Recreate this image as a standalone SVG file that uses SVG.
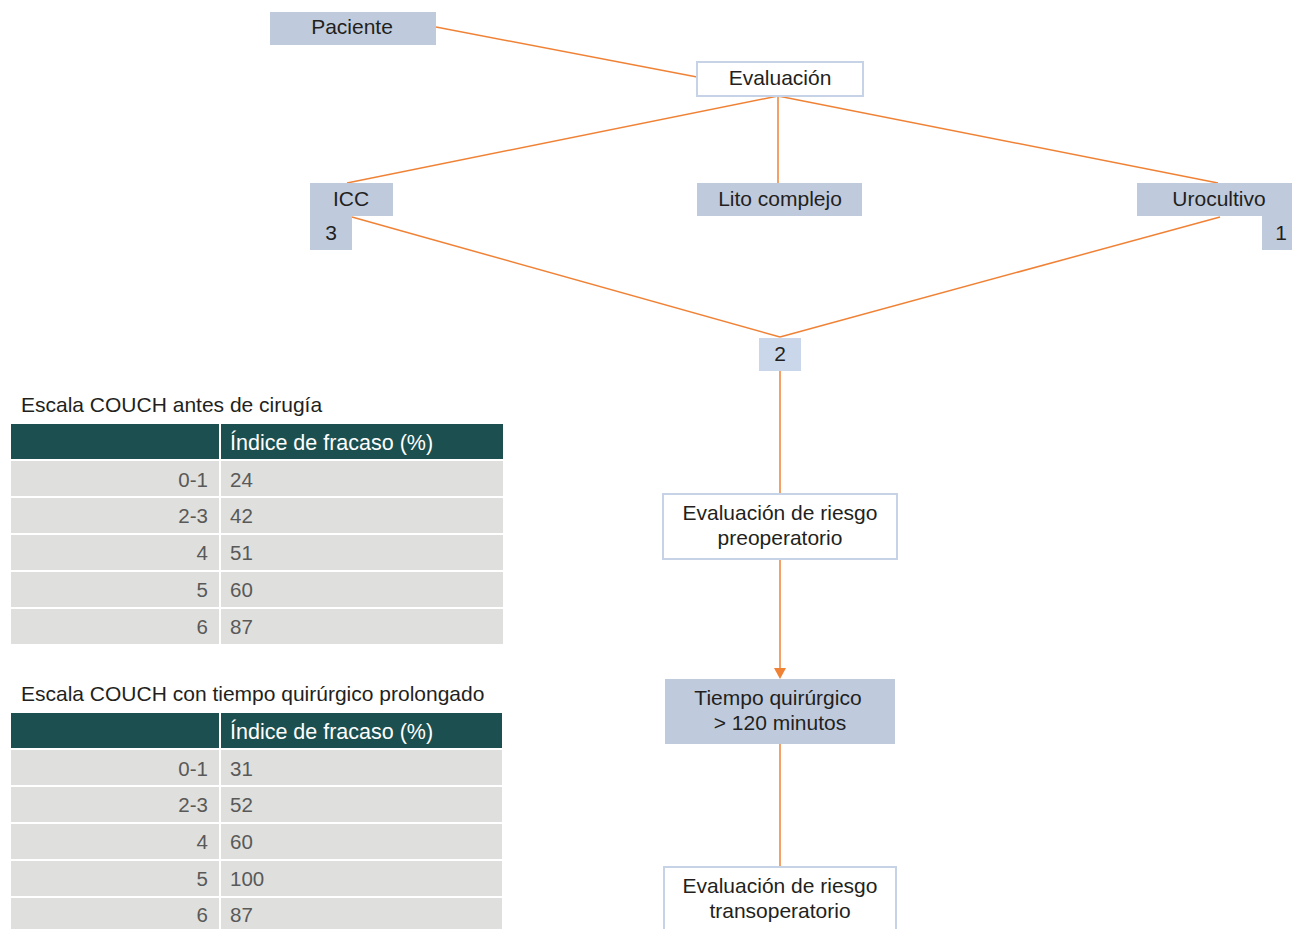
<svg xmlns="http://www.w3.org/2000/svg" width="1292" height="929" viewBox="0 0 1292 929">
<defs>
<style>
.t{font-family:"Liberation Sans",Arial,sans-serif;font-size:21px;fill:#231f20}
.c{text-anchor:middle}
.blue{fill:#bfcbdd}
.wbox{fill:#fff;stroke:#c6d3e6;stroke-width:2}
.ln{stroke:#f08236;stroke-width:1.5;fill:none}
.hd{fill:#1c4f50}
.row{fill:#dfe0dd}
.ht{font-family:"Liberation Sans",Arial,sans-serif;font-size:21.5px;fill:#fff}
.tt{font-family:"Liberation Sans",Arial,sans-serif;font-size:20.5px;fill:#595959}
.r{text-anchor:end}
</style>
</defs>
<rect width="1292" height="929" fill="#fff"/>
<g id="connectors">
<line class="ln" x1="436" y1="27" x2="697" y2="77"/>
<line class="ln" x1="778" y1="96" x2="347" y2="183"/>
<line class="ln" x1="778" y1="96" x2="778" y2="183"/>
<line class="ln" x1="778" y1="96" x2="1218" y2="183"/>
<line class="ln" x1="352" y1="217" x2="780" y2="337"/>
<line class="ln" x1="1220" y1="217" x2="780" y2="337"/>
<line class="ln" x1="780" y1="371" x2="780" y2="494"/>
<line class="ln" x1="780" y1="559" x2="780" y2="668"/>
<path d="M774,668 L786,668 L780,679 Z" fill="#f08236"/>
<line class="ln" x1="780" y1="744" x2="780" y2="866"/>
</g>
<g id="paciente">
<rect class="blue" x="270" y="12" width="166" height="33"/>
<text class="t c" x="352" y="34">Paciente</text>
</g>
<g id="evaluacion">
<rect class="wbox" x="697" y="62" width="166" height="34"/>
<text class="t c" x="780" y="85">Evaluación</text>
</g>
<g id="icc">
<rect class="blue" x="310" y="183" width="83" height="33"/>
<rect class="blue" x="310" y="216" width="42" height="34"/>
<text class="t c" x="351" y="206">ICC</text>
<text class="t c" x="331" y="240">3</text>
</g>
<g id="lito">
<rect class="blue" x="697" y="183" width="165" height="33"/>
<text class="t c" x="780" y="206">Lito complejo</text>
</g>
<g id="urocultivo">
<rect class="blue" x="1137" y="183" width="155" height="33"/>
<rect class="blue" x="1262" y="216" width="30" height="34"/>
<text class="t c" x="1219" y="206">Urocultivo</text>
<text class="t c" x="1281" y="240">1</text>
</g>
<g id="dos">
<rect fill="#cad7ea" x="759" y="338" width="42" height="33"/>
<text class="t c" x="780" y="361">2</text>
</g>
<g id="preop">
<rect class="wbox" x="663" y="494" width="234" height="65"/>
<text class="t c" x="780" y="520">Evaluación de riesgo</text>
<text class="t c" x="780" y="545">preoperatorio</text>
</g>
<g id="tiempo">
<rect class="blue" x="665" y="679" width="230" height="65"/>
<text class="t c" x="778" y="705">Tiempo quirúrgico</text>
<text class="t c" x="780" y="730">&gt; 120 minutos</text>
</g>
<g id="transop">
<rect class="wbox" x="664" y="867" width="232" height="70"/>
<text class="t c" x="780" y="893">Evaluación de riesgo</text>
<text class="t c" x="780" y="918">transoperatorio</text>
</g>
<g id="tabla1">
<text class="t" x="21" y="412">Escala COUCH antes de cirugía</text>
<rect class="hd" x="11" y="424" width="492" height="35"/>
<rect fill="#fff" x="219" y="424" width="2" height="220"/>
<text class="ht" x="230" y="450">Índice de fracaso (%)</text>
<rect class="row" x="11" y="461" width="208" height="35"/><rect class="row" x="221" y="461" width="282" height="35"/>
<rect class="row" x="11" y="498" width="208" height="35"/><rect class="row" x="221" y="498" width="282" height="35"/>
<rect class="row" x="11" y="535" width="208" height="35"/><rect class="row" x="221" y="535" width="282" height="35"/>
<rect class="row" x="11" y="572" width="208" height="35"/><rect class="row" x="221" y="572" width="282" height="35"/>
<rect class="row" x="11" y="609" width="208" height="35"/><rect class="row" x="221" y="609" width="282" height="35"/>
<text class="tt r" x="208" y="487">0-1</text><text class="tt" x="230" y="487">24</text>
<text class="tt r" x="208" y="523">2-3</text><text class="tt" x="230" y="523">42</text>
<text class="tt r" x="208" y="560">4</text><text class="tt" x="230" y="560">51</text>
<text class="tt r" x="208" y="597">5</text><text class="tt" x="230" y="597">60</text>
<text class="tt r" x="208" y="634">6</text><text class="tt" x="230" y="634">87</text>
</g>
<g id="tabla2">
<text class="t" x="21" y="701">Escala COUCH con tiempo quirúrgico prolongado</text>
<rect class="hd" x="11" y="713" width="491" height="35"/>
<rect fill="#fff" x="219" y="713" width="2" height="216"/>
<text class="ht" x="230" y="739">Índice de fracaso (%)</text>
<rect class="row" x="11" y="750" width="208" height="35"/><rect class="row" x="221" y="750" width="281" height="35"/>
<rect class="row" x="11" y="787" width="208" height="35"/><rect class="row" x="221" y="787" width="281" height="35"/>
<rect class="row" x="11" y="824" width="208" height="35"/><rect class="row" x="221" y="824" width="281" height="35"/>
<rect class="row" x="11" y="861" width="208" height="35"/><rect class="row" x="221" y="861" width="281" height="35"/>
<rect class="row" x="11" y="898" width="208" height="31"/><rect class="row" x="221" y="898" width="281" height="31"/>
<text class="tt r" x="208" y="776">0-1</text><text class="tt" x="230" y="776">31</text>
<text class="tt r" x="208" y="812">2-3</text><text class="tt" x="230" y="812">52</text>
<text class="tt r" x="208" y="849">4</text><text class="tt" x="230" y="849">60</text>
<text class="tt r" x="208" y="886">5</text><text class="tt" x="230" y="886">100</text>
<text class="tt r" x="208" y="922">6</text><text class="tt" x="230" y="922">87</text>
</g>
</svg>
